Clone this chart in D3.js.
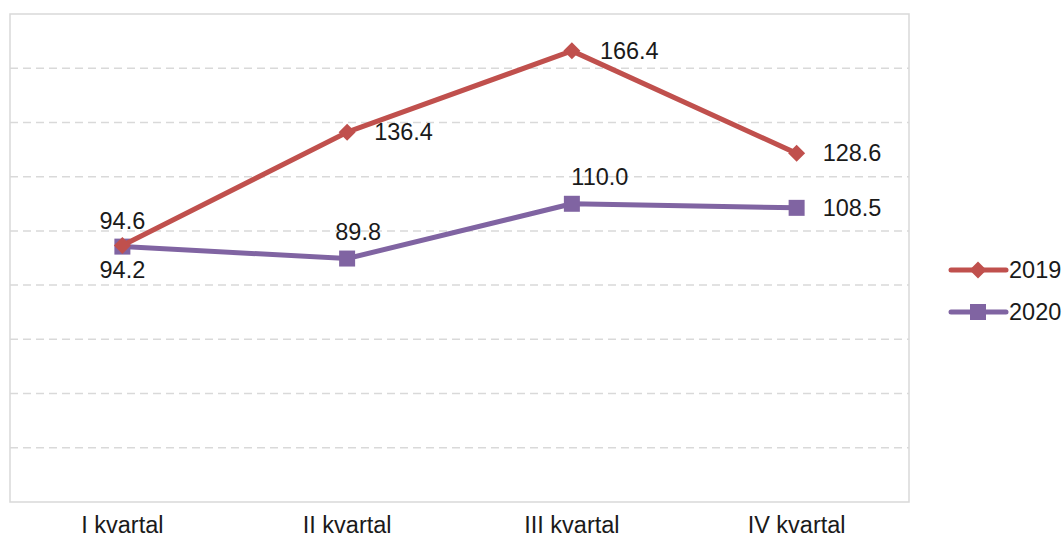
<!DOCTYPE html>
<html><head><meta charset="utf-8">
<script src="https://cdn.jsdelivr.net/npm/d3@7"></script>
<style>html,body{margin:0;padding:0;background:#fff;overflow:hidden}</style>
</head><body><svg id="c" width="1064" height="539"></svg>
<script>
const categories = ["I kvartal", "II kvartal", "III kvartal", "IV kvartal"];
const seriesNames = ["2019", "2020"];
const values2019 = [94.6, 136.4, 166.4, 128.6];
const values2020 = [94.2, 89.8, 110.0, 108.5];
const yTicks = [20, 40, 60, 80, 100, 120, 140, 160];
const labels2019 = ["94.6", "136.4", "166.4", "128.6"];
const labels2020 = ["94.2", "89.8", "110.0", "108.5"];

const colors = {"2019": "#c0504d", "2020": "#8064a2"};
const font = "'Liberation Sans', Arial, sans-serif";
const fs = 23.5;

const svg = d3.select("#c");
const L = 10, R = 909, T = 14, B = 502;
const x = d3.scaleBand().domain(categories).range([L, R]);
const y = d3.scaleLinear().domain([0, 180]).range([B, T]);
const cx = c => x(c) + x.bandwidth() / 2;

// grid
svg.append("g").selectAll("line").data(yTicks).join("line")
  .attr("x1", L).attr("x2", R).attr("y1", d => y(d)).attr("y2", d => y(d))
  .attr("stroke", "#d9d9d9").attr("stroke-width", 1.5).attr("stroke-dasharray", "8,5");
// border
svg.append("rect").attr("x", L).attr("y", T).attr("width", R - L).attr("height", B - T)
  .attr("fill", "none").attr("stroke", "#d9d9d9").attr("stroke-width", 1.5);

// x labels
svg.append("g").selectAll("text").data(categories).join("text")
  .attr("x", d => cx(d)).attr("y", 533).attr("text-anchor", "middle")
  .attr("font-family", font).attr("font-size", fs).attr("fill", "#1a1a1a").text(d => d);

const line = d3.line().x((d, i) => cx(categories[i])).y(d => y(d));
const diamondPath = "M0,-8.5L8.5,0L0,8.5L-8.5,0Z";
const squarePath = "M-8,-8H8V8H-8Z";

function drawSeries(vals, color, marker) {
  svg.append("path").datum(vals).attr("d", line).attr("fill", "none")
    .attr("stroke", color).attr("stroke-width", 5).attr("stroke-linejoin", "round");
  svg.append("g").selectAll("path").data(vals).join("path")
    .attr("d", marker === "diamond" ? diamondPath : squarePath).attr("fill", color)
    .attr("transform", (d, i) => `translate(${cx(categories[i])},${y(d)})`);
}
drawSeries(values2020, colors["2020"], "square");
drawSeries(values2019, colors["2019"], "diamond");

// data labels: positions [dx, dy, anchor]
const pos2019 = [[0, -17, "middle"], [27, 8, "start"], [28, 8, "start"], [26, 8, "start"]];
const pos2020 = [[0, 31, "middle"], [11, -19, "middle"], [28, -19, "middle"], [26, 8, "start"]];
function drawLabels(vals, labs, pos) {
  svg.append("g").selectAll("text").data(vals).join("text")
    .attr("x", (d, i) => cx(categories[i]) + pos[i][0])
    .attr("y", (d, i) => y(d) + pos[i][1])
    .attr("text-anchor", (d, i) => pos[i][2])
    .attr("font-family", font).attr("font-size", fs).attr("fill", "#1a1a1a")
    .text((d, i) => labs[i]);
}
drawLabels(values2019, labels2019, pos2019);
drawLabels(values2020, labels2020, pos2020);

// legend
const leg = svg.append("g");
seriesNames.forEach((s, i) => {
  const ly = 270 + i * 42;
  leg.append("line").attr("x1", 951).attr("x2", 1006).attr("y1", ly).attr("y2", ly)
    .attr("stroke", colors[s]).attr("stroke-width", 5).attr("stroke-linecap", "round");
  leg.append("path").attr("d", i === 0 ? diamondPath : squarePath).attr("fill", colors[s])
    .attr("transform", `translate(978,${ly})`);
  leg.append("text").attr("x", 1009).attr("y", ly + 8).attr("font-family", font)
    .attr("font-size", fs).attr("fill", "#1a1a1a").text(s);
});
</script></body></html>
